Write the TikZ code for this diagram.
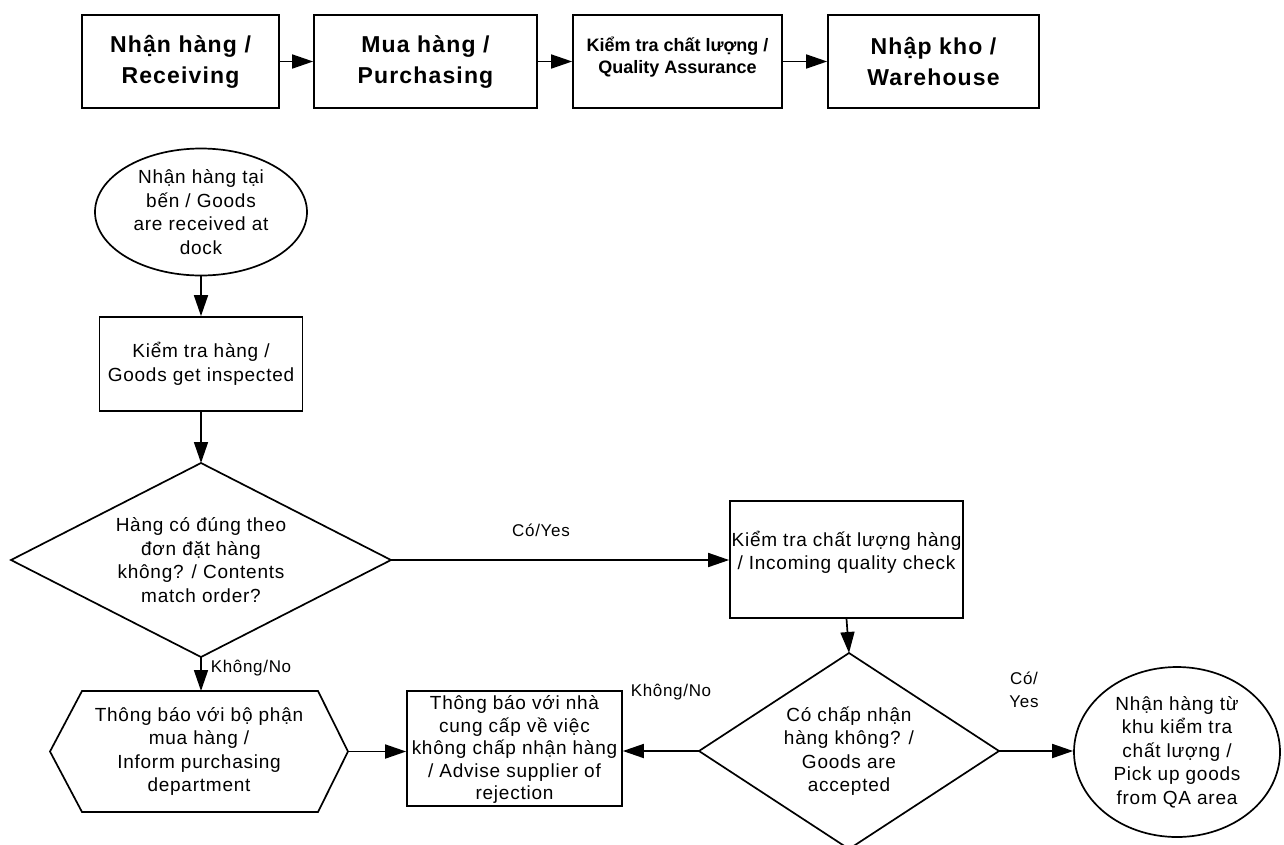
\documentclass[tikz,border=0pt]{standalone}
\usepackage{fontspec}
\setmainfont{Liberation Sans}
\usetikzlibrary{shapes.geometric,arrows.meta,calc}

\tikzset{
  line/.style={line width=1.7pt, draw=black},
  arr/.style={line, -{Triangle[length=21pt,width=14pt]}},
  hdr/.style={line, rectangle, align=center, inner sep=0pt,
              font=\bfseries\fontsize{23}{31}\selectfont\addfontfeatures{LetterSpace=5}},
  body/.style={align=center, inner sep=0pt,
              font=\fontsize{19}{23.5}\selectfont\addfontfeatures{LetterSpace=4}},
  stepbox/.style={line, rectangle, body},
  oval/.style={line, ellipse, body},
  shapebox/.style={body, outer sep=0pt},
  lbl/.style={align=center, inner sep=0pt,
              font=\fontsize{17}{23}\selectfont\addfontfeatures{LetterSpace=4}},
}

\begin{document}
\begin{tikzpicture}[x=1pt,y=-1pt]
\useasboundingbox (0,0) rectangle (1284,844);

% department header row
\node[hdr, minimum width=197, minimum height=93] (rec) at (180.5,61.5) {Nhận hàng /\\Receiving};
\node[hdr, minimum width=223, minimum height=93] (pur) at (425.5,61.5) {Mua hàng /\\Purchasing};
\node[hdr, minimum width=209, minimum height=93] (qa) at (677.5,61.5) {};
\node[align=center, inner sep=0pt, font=\bfseries\fontsize{18}{22}\selectfont] (qatext)
  at ($(qa.center)+(0,-4)$) {Kiểm tra chất lượng /\\Quality Assurance};
\node[hdr, minimum width=211, minimum height=93] (wh) at (933.5,61.5) {Nhập kho /\\Warehouse};

\draw[arr] (rec) -- (pur);
\draw[arr] (pur) -- (qa);
\draw[arr] (qa) -- (wh);

% receiving flow
\node[oval, minimum width=212, minimum height=127] (start) at (201,212) {Nhận hàng tại\\bến / Goods\\are received at\\dock};
\node[stepbox, minimum width=203, minimum height=94] (inspect) at (201,364) {Kiểm tra hàng /\\Goods get inspected};

% decision: contents match order
\node[shapebox, minimum width=380, minimum height=194] (match) at (201,560) {Hàng có đúng theo\\đơn đặt hàng\\không? / Contents\\match order?};
\draw[line] (match.north) -- (match.east) -- (match.south) -- (match.west) -- cycle;

% inform purchasing (hexagon)
\node[shapebox, minimum width=298, minimum height=121] (inform) at (199,751.5) {Thông báo với bộ phận\\mua hàng /\\Inform purchasing\\department};
\draw[line] (inform.west) -- ([xshift=32pt]inform.north west) -- ([xshift=-30pt]inform.north east)
  -- (inform.east) -- ([xshift=-30pt]inform.south east) -- ([xshift=32pt]inform.south west) -- cycle;

% advise supplier
\node[line, rectangle, minimum width=215, minimum height=115] (advise) at (514.5,748.5) {};
\node[body, font=\fontsize{19}{22.5}\selectfont\addfontfeatures{LetterSpace=4}] (advtext)
  at ($(advise.center)+(0,1)$) {Thông báo với nhà\\cung cấp về việc\\không chấp nhận hàng\\/ Advise supplier of\\rejection};

% quality check
\node[line, rectangle, minimum width=233, minimum height=117] (qc) at (846.5,559.5) {};
\node[body] (qctext) at ($(qc.center)+(0,-7)$) {Kiểm tra chất lượng hàng\\/ Incoming quality check};

% decision: goods accepted
\node[shapebox, minimum width=300, minimum height=196] (accept) at (849,751) {Có chấp nhận\\hàng không? /\\Goods are\\accepted};
\draw[line] (accept.north) -- (accept.east) -- (accept.south) -- (accept.west) -- cycle;

\node[oval, minimum width=206, minimum height=170] (pickup) at (1177,752) {Nhận hàng từ\\khu kiểm tra\\chất lượng /\\Pick up goods\\from QA area};

% connectors
\draw[arr] (start.south) -- (inspect.north);
\draw[arr] (inspect.south) -- (match.north);
\draw[arr] (match.east) -- (match.east -| qc.west);
\node[lbl] (yes1) at (541,530) {Có/Yes};
\draw[arr] (match.south) -- (match.south |- inform.north);
\node[lbl] (no1) at (251,668) {Không/No};
\draw[arr] (inform.east) -- (inform.east -| advise.west);
\draw[arr] (qc.south) -- (accept.north);
\draw[arr] (accept.west) -- (accept.west -| advise.east);
\node[lbl] (no2) at (671,692) {Không/No};
\draw[arr] (accept.east) -- (accept.east -| pickup.west);
\node[lbl] (yes2) at (1024,690) {Có/\\Yes};
\end{tikzpicture}
\end{document}
